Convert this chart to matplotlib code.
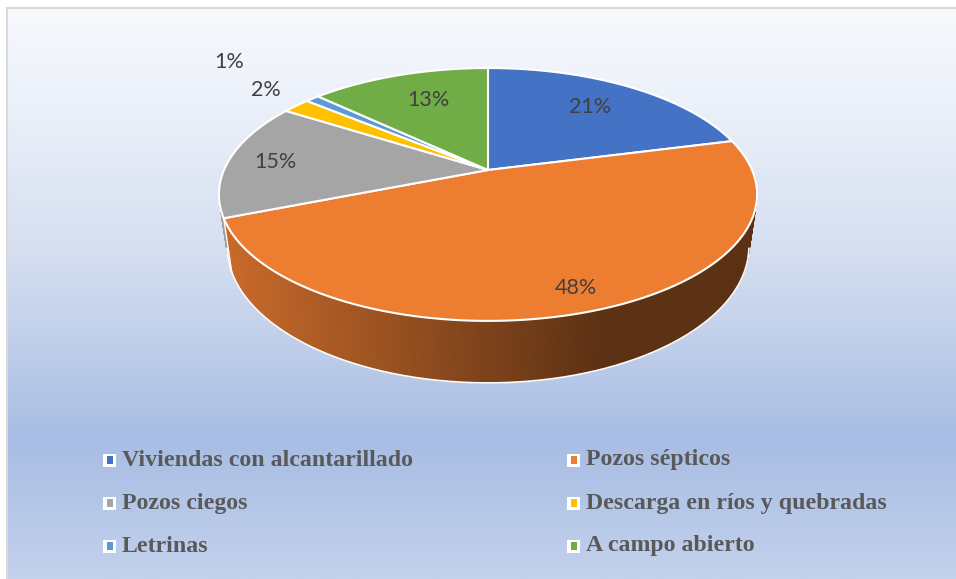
import matplotlib
matplotlib.use("Agg")
import matplotlib.pyplot as plt
import numpy as np
from matplotlib.patches import Polygon, Rectangle

# data
categories = ["Viviendas con alcantarillado", "Pozos sépticos", "Pozos ciegos",
              "Descarga en ríos y quebradas", "Letrinas", "A campo abierto"]
values = [21, 48, 15, 2, 1, 13]
labels = ["21%", "48%", "15%", "2%", "1%", "13%"]
colors = ["#4472C4", "#ED7D31", "#A5A5A5", "#FFC000", "#5B9BD5", "#70AD47"]

W, H_IMG = 956, 579
fig = plt.figure(figsize=(W / 100, H_IMG / 100), dpi=100)
ax = fig.add_axes([0, 0, 1, 1])
ax.set_xlim(0, W)
ax.set_ylim(H_IMG, 0)
ax.axis("off")

# background gradient (white top -> blue -> lighter bottom)
stops_y = [8, 100, 250, 440, 579]
stops_c = np.array([[247, 249, 253], [236, 241, 250], [214, 223, 240],
                    [168, 189, 228], [195, 209, 236]]) / 255.0
ys = np.linspace(8, 579, 400)
grad = np.stack([np.interp(ys, stops_y, stops_c[:, i]) for i in range(3)], axis=1)
ax.imshow(grad[:, None, :], extent=[7, W, 579, 8], aspect="auto", zorder=0)
ax.plot([7, W], [8, 8], color="#d9d9d9", lw=1.5, zorder=1)
ax.plot([7, 7], [8, 579], color="#d9d9d9", lw=1.5, zorder=1)

# 3d pie geometry (pixel coords)
cx, cy = 488, 170
A, B, k = 264, 121.7, 0.1935
A_bot = 256
depth = 50


def proj(theta, down=0.0, a=A):
    u = np.sin(theta)
    v = -np.cos(theta)
    d = 1 - k * v
    return cx + a * u / d, cy + B * v / d + down / d


fracs = np.array(values, dtype=float) / sum(values)
bounds = np.concatenate([[0], np.cumsum(fracs)]) * 2 * np.pi


def slice_of(theta):
    return int(np.searchsorted(bounds, theta, side="right") - 1)


# side walls (front part only), back to front
n = 720
th = np.linspace(0, 2 * np.pi, n + 1)
segs = []
for i in range(n):
    t0, t1 = th[i], th[i + 1]
    x0, y0 = proj(t0)
    x1, y1 = proj(t1)
    x0b, y0b = proj(t0, depth, A_bot)
    x1b, y1b = proj(t1, depth, A_bot)
    vmid = -np.cos((t0 + t1) / 2)
    segs.append((vmid, [(x0, y0), (x1, y1), (x1b, y1b), (x0b, y0b)], (t0 + t1) / 2, (x0 + x1) / 2))
segs.sort(key=lambda s: s[0])
for vmid, pts, tm, xm in segs:
    if vmid < k + 0.01:
        continue
    base = np.array(matplotlib.colors.to_rgb(colors[min(slice_of(tm), 5)]))
    f = np.clip(0.84 - 0.45 * (xm - 230) / 370, 0.39, 0.86)
    if slice_of(tm) == 2:
        f = 0.95
    ax.add_patch(Polygon(pts, closed=True, facecolor=base * f, edgecolor=base * f,
                         lw=0.6, zorder=2))

# white outline of the bottom rim and silhouettes
tv = np.linspace(np.radians(102), np.radians(258), 300)
bx, by = proj(tv, depth, A_bot)
ax.plot(bx, by, color="white", lw=1.2, zorder=3)
for tt in [np.radians(248.4)]:
    x0, y0 = proj(tt)
    x1, y1 = proj(tt, depth, A_bot)
    ax.plot([x0, x1], [y0, y1], color="white", lw=1.0, zorder=3)

# top faces
for i in range(len(values)):
    t = np.linspace(bounds[i], bounds[i + 1], 200)
    px, py = proj(t)
    pts = [(cx, cy)] + list(zip(px, py))
    ax.add_patch(Polygon(pts, closed=True, facecolor=colors[i], edgecolor="white",
                         lw=1.5, joinstyle="round", zorder=4))

# data labels
label_pos = [(590, 107), (576, 288), (275, 162), (266, 90), (229, 62), (428, 100)]
for (lx, ly), txt in zip(label_pos, labels):
    ax.text(lx, ly, txt, fontsize=15.5, color="#404040", family="Lato",
            ha="center", va="center", zorder=5)

# legend
leg_x = [110, 574]
leg_y = [460, 503, 546]
for i, name in enumerate(categories):
    mx = leg_x[i % 2]
    my = leg_y[i // 2]
    ax.add_patch(Rectangle((mx - 6.5, my - 6.5), 13, 13, facecolor="white",
                           edgecolor="none", zorder=5))
    ax.add_patch(Rectangle((mx - 3, my - 4), 6, 8, facecolor=colors[i],
                           edgecolor="none", zorder=6))
    ax.text(mx + 12, my, name, fontsize=17.2, color="#595959", weight="bold",
            family="Liberation Serif", ha="left", va="center", zorder=5)

fig.savefig("out.png", dpi=100, facecolor="white")
